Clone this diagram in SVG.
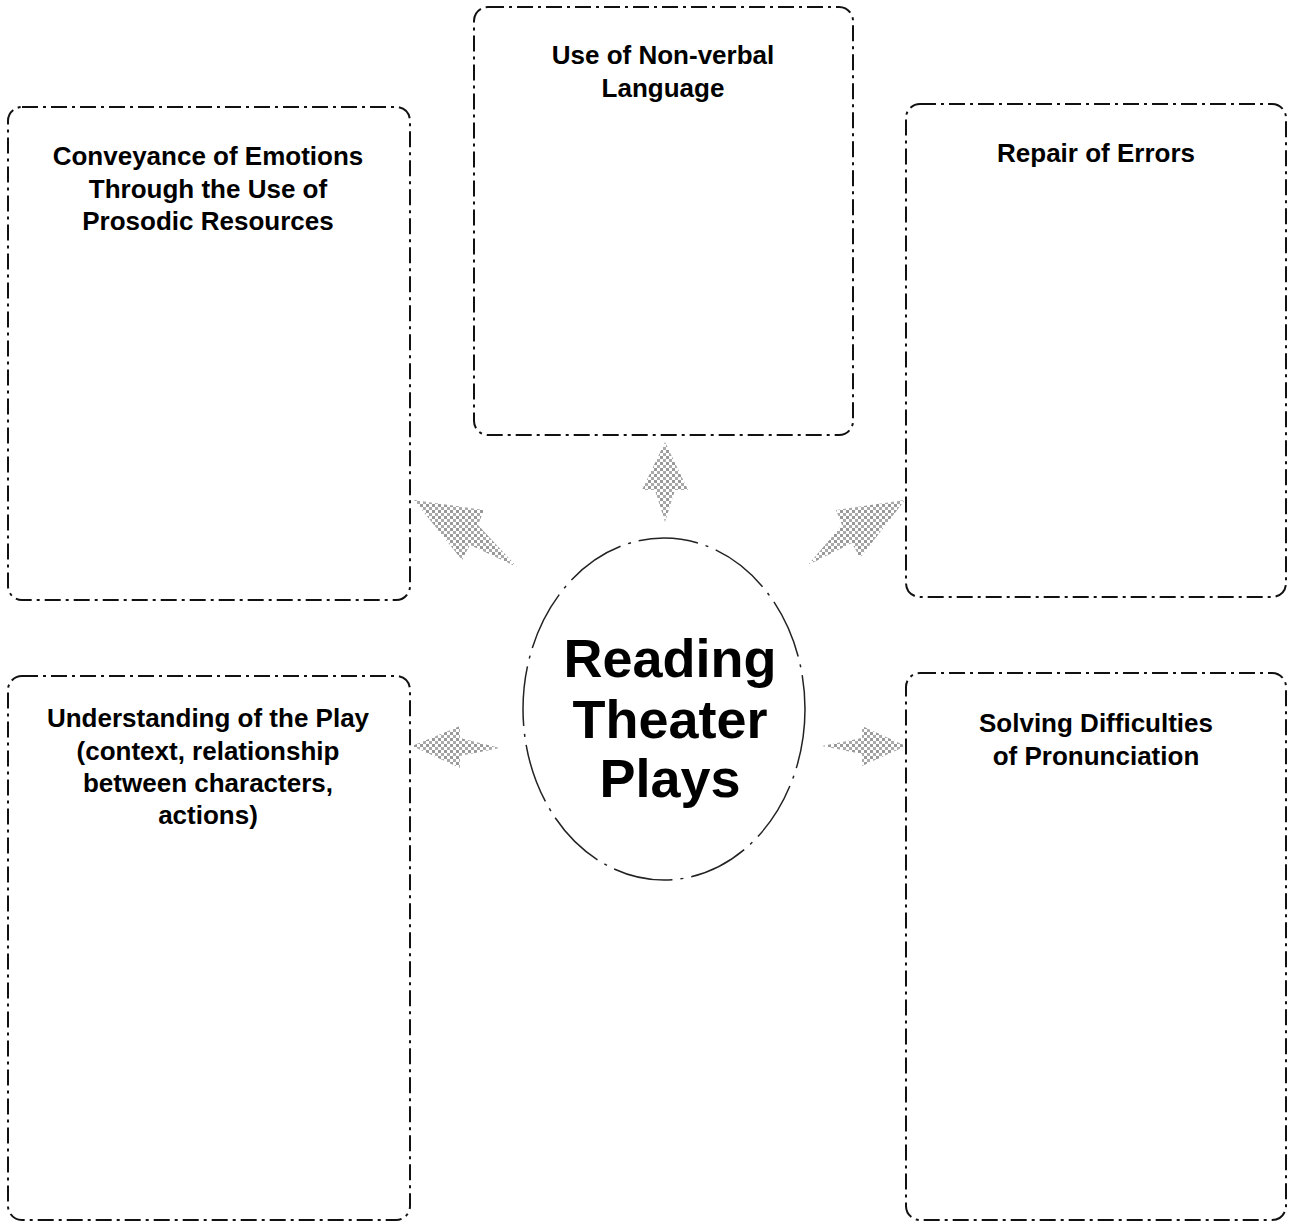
<svg xmlns="http://www.w3.org/2000/svg" width="1294" height="1222" viewBox="0 0 1294 1222">
<style>
.box{fill:none;stroke:#111;stroke-width:2;stroke-dasharray:16 5 3 5}
.lbl{font-family:"Liberation Sans",Arial,sans-serif;font-weight:bold;font-size:26px;fill:#000;text-anchor:middle}
.big{font-family:"Liberation Sans",Arial,sans-serif;font-weight:bold;font-size:54px;fill:#000;text-anchor:middle}
.arr{fill:url(#stip);stroke:none}
</style>
<defs>
<pattern id="stip" width="6" height="6" patternUnits="userSpaceOnUse">
<rect width="6" height="6" fill="#fff"/>
<rect x="0" y="0" width="3" height="3" fill="#999"/>
<rect x="3" y="3" width="3" height="3" fill="#aaa"/>
</pattern>
</defs>
<g id="connectors">
<polygon class="arr" points="665,522 655,490 642,490 665,442 688,490 675,490"/>
<polygon class="arr" points="517,567 470,545 462,560 414,500 484,510 478,525"/>
<polygon class="arr" points="808,565 852,543 860,558 905,500 836,510 842,525"/>
<polygon class="arr" points="500,748 460,738 460,726 412,746 460,768 460,756"/>
<polygon class="arr" points="822,746 862,738 862,726 906,746 862,766 862,754"/>
</g>
<g id="node-top">
<rect class="box" x="474" y="7" width="379" height="428" rx="14"/>
<text class="lbl" x="663" y="64">Use of Non-verbal</text>
<text class="lbl" x="663" y="97">Language</text>
</g>
<g id="node-tl">
<rect class="box" x="8" y="107" width="402" height="493" rx="14"/>
<text class="lbl" x="208" y="165">Conveyance of Emotions</text>
<text class="lbl" x="208" y="198">Through the Use of</text>
<text class="lbl" x="208" y="230">Prosodic Resources</text>
</g>
<g id="node-tr">
<rect class="box" x="906" y="104" width="380" height="493" rx="14"/>
<text class="lbl" x="1096" y="162">Repair of Errors</text>
</g>
<g id="node-bl">
<rect class="box" x="8" y="676" width="402" height="544" rx="14"/>
<text class="lbl" x="208" y="727">Understanding of the Play</text>
<text class="lbl" x="208" y="760">(context, relationship</text>
<text class="lbl" x="208" y="792">between characters,</text>
<text class="lbl" x="208" y="824">actions)</text>
</g>
<g id="node-br">
<rect class="box" x="906" y="673" width="380" height="547" rx="14"/>
<text class="lbl" x="1096" y="732">Solving Difficulties</text>
<text class="lbl" x="1096" y="765">of Pronunciation</text>
</g>
<g id="node-center">
<ellipse cx="664" cy="709" rx="141" ry="171" fill="#fff" stroke="#222" stroke-width="1.5" stroke-dasharray="60 8 3 8"/>
<text class="big" x="670" y="677">Reading</text>
<text class="big" x="670" y="738">Theater</text>
<text class="big" x="670" y="797">Plays</text>
</g>
</svg>
